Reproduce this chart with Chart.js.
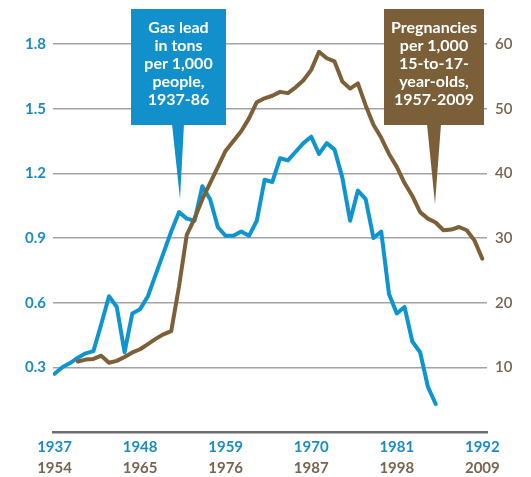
<!DOCTYPE html>
<html>
<head>
<meta charset="utf-8">
<script src="https://cdn.jsdelivr.net/npm/chart.js@4.4.1/dist/chart.umd.min.js"></script>
<style>
  html, body { margin: 0; padding: 0; background: #fff; }
</style>
</head>
<body>
<canvas id="chart" width="531" height="477"></canvas>
<script>
// gas lead, tons per 1,000 people (left axis, top row of years)
const gasYears = [1937, 1938, 1939, 1940, 1941, 1942, 1943, 1944, 1945, 1946,
  1947, 1948, 1949, 1950, 1951, 1952, 1953, 1954, 1955, 1956,
  1957, 1958, 1959, 1960, 1961, 1962, 1963, 1964, 1965, 1966,
  1967, 1968, 1969, 1970, 1971, 1972, 1973, 1974, 1975, 1976,
  1977, 1978, 1979, 1980, 1981, 1982, 1983, 1984, 1985, 1986];
const gasLead = [0.27, 0.30, 0.32, 0.345, 0.365, 0.375, 0.50, 0.63, 0.58, 0.37,
  0.55, 0.57, 0.63, 0.73, 0.83, 0.93, 1.02, 0.99, 0.98, 1.14,
  1.08, 0.95, 0.91, 0.91, 0.93, 0.91, 0.98, 1.17, 1.16, 1.27,
  1.26, 1.30, 1.34, 1.37, 1.29, 1.34, 1.31, 1.18, 0.98, 1.12,
  1.08, 0.90, 0.93, 0.64, 0.55, 0.58, 0.42, 0.37, 0.21, 0.13];

// pregnancies per 1,000 15-to-17-year-olds (right axis, bottom row of years)
const pregYears = [1957, 1958, 1959, 1960, 1961, 1962, 1963, 1964, 1965, 1966,
  1967, 1968, 1969, 1970, 1971, 1972, 1973, 1974, 1975, 1976,
  1977, 1978, 1979, 1980, 1981, 1982, 1983, 1984, 1985, 1986,
  1987, 1988, 1989, 1990, 1991, 1992, 1993, 1994, 1995, 1996,
  1997, 1998, 1999, 2000, 2001, 2002, 2003, 2004, 2005, 2006,
  2007, 2008, 2009];
const pregnancies = [10.9, 11.2, 11.3, 11.8, 10.7, 11.0, 11.6, 12.3, 12.8, 13.6,
  14.4, 15.1, 15.6, 22.5, 30.5, 33.0, 36.0, 38.5, 41.0, 43.5,
  45.0, 46.5, 48.5, 51.0, 51.6, 52.0, 52.6, 52.4, 53.3, 54.4,
  56.0, 58.8, 57.8, 57.3, 54.2, 53.1, 53.9, 50.5, 47.5, 45.5,
  43.0, 41.0, 38.5, 36.5, 34.0, 33.0, 32.4, 31.2, 31.3, 31.7,
  31.2, 29.6, 26.8];

const gasTicks = [1937, 1948, 1959, 1970, 1981, 1992];
const pregTicks = [1954, 1965, 1976, 1987, 1998, 2009];
const leadTicks = [0.3, 0.6, 0.9, 1.2, 1.5, 1.8];
const pregValueTicks = [10, 20, 30, 40, 50, 60];

const gasNote = ['Gas lead', 'in tons', 'per 1,000', 'people,', '1937-86'];
const pregNote = ['Pregnancies', 'per 1,000', '15-to-17-', 'year-olds,', '1957-2009'];

const BLUE = '#0e95d0';
const BLUE_TEXT = '#1a8cc6';
const BROWN = '#7d6038';
const BROWN_TEXT = '#7a6450';
const FONT = 'Lato, "Open Sans", sans-serif';

function drawCallout(ctx, c) {
  ctx.save();
  ctx.fillStyle = c.color;
  ctx.fillRect(c.x, c.y, c.w, c.h);
  ctx.beginPath();
  ctx.moveTo(c.base[0], c.y + c.h - 1);
  ctx.lineTo(c.base[1], c.y + c.h - 1);
  ctx.lineTo(c.tip[0], c.tip[1]);
  ctx.closePath();
  ctx.fill();
  ctx.fillStyle = '#fff';
  ctx.font = 'bold 16px ' + FONT;
  ctx.textAlign = 'center';
  ctx.textBaseline = 'middle';
  c.lines.forEach((t, i) => {
    ctx.fillText(t, c.x + c.w / 2, c.y + 19 + i * 18);
  });
  ctx.restore();
}

const callouts = {
  id: 'callouts',
  afterDatasetsDraw(chart) {
    const ctx = chart.ctx;
    drawCallout(ctx, { x: 131, y: 9, w: 95, h: 116, base: [172, 184], tip: [180, 199], color: '#1190cb', lines: gasNote });
    drawCallout(ctx, { x: 384, y: 9, w: 100, h: 116, base: [427, 441], tip: [435, 204], color: '#7b5f38', lines: pregNote });
  }
};

const whiteBg = {
  id: 'whiteBg',
  beforeDraw(chart) {
    const ctx = chart.ctx;
    ctx.save();
    ctx.fillStyle = '#fff';
    ctx.fillRect(0, 0, chart.width, chart.height);
    ctx.restore();
  }
};

new Chart(document.getElementById('chart'), {
  type: 'line',
  data: {
    datasets: [
      {
        label: 'Pregnancies',
        data: pregYears.map((yr, i) => ({ x: yr, y: pregnancies[i] })),
        xAxisID: 'x2',
        yAxisID: 'y2',
        borderColor: BROWN,
        borderWidth: 4,
        pointRadius: 0,
        tension: 0,
        borderJoinStyle: 'round',
        borderCapStyle: 'round',
        order: 0
      },
      {
        label: 'Gas lead',
        data: gasYears.map((yr, i) => ({ x: yr, y: gasLead[i] })),
        xAxisID: 'x',
        yAxisID: 'y',
        borderColor: BLUE,
        borderWidth: 4,
        pointRadius: 0,
        tension: 0,
        borderJoinStyle: 'round',
        borderCapStyle: 'round',
        order: 1
      }
    ]
  },
  options: {
    responsive: false,
    animation: false,
    layout: { padding: { top: 44, left: 0, right: 0, bottom: 0 } },
    plugins: {
      legend: { display: false },
      tooltip: { enabled: false }
    },
    scales: {
      x: {
        type: 'linear',
        position: 'bottom',
        weight: 0,
        min: 1936.8,
        max: 1992.6,
        afterBuildTicks: s => { s.ticks = gasTicks.map(v => ({ value: v })); },
        afterFit: s => { s.height = 24; },
        grid: { display: false, drawTicks: false },
        border: { display: true, color: '#6e6e6e', width: 2.5 },
        ticks: {
          autoSkip: false, maxRotation: 0, padding: 6,
          color: BLUE_TEXT,
          font: { family: FONT, size: 15, weight: 'bold' },
          callback: v => String(v)
        }
      },
      x2: {
        type: 'linear',
        position: 'bottom',
        weight: 1,
        min: 1953.8,
        max: 2009.6,
        afterBuildTicks: s => { s.ticks = pregTicks.map(v => ({ value: v })); },
        afterFit: s => { s.height = 21; },
        grid: { display: false, drawTicks: false },
        border: { display: false },
        ticks: {
          autoSkip: false, maxRotation: 0, padding: 3,
          color: BROWN_TEXT,
          font: { family: FONT, size: 15, weight: 'bold' },
          callback: v => String(v)
        }
      },
      y: {
        position: 'left',
        min: 0,
        max: 1.8,
        afterBuildTicks: s => { s.ticks = leadTicks.map(v => ({ value: v })); },
        afterFit: s => { s.width = 53; },
        grid: { color: '#a3a3a3', lineWidth: 1.5, drawTicks: false },
        border: { display: false },
        ticks: {
          padding: 7,
          color: BLUE_TEXT,
          font: { family: FONT, size: 15, weight: 'bold' },
          callback: v => v.toFixed(1)
        }
      },
      y2: {
        position: 'right',
        min: 0,
        max: 60,
        afterBuildTicks: s => { s.ticks = pregValueTicks.map(v => ({ value: v })); },
        afterFit: s => { s.width = 44; },
        grid: { display: false, drawTicks: false },
        border: { display: false },
        ticks: {
          padding: 8,
          color: BROWN_TEXT,
          font: { family: FONT, size: 15, weight: '600' },
          callback: v => String(v)
        }
      }
    }
  },
  plugins: [whiteBg, callouts]
});
</script>
</body>
</html>
